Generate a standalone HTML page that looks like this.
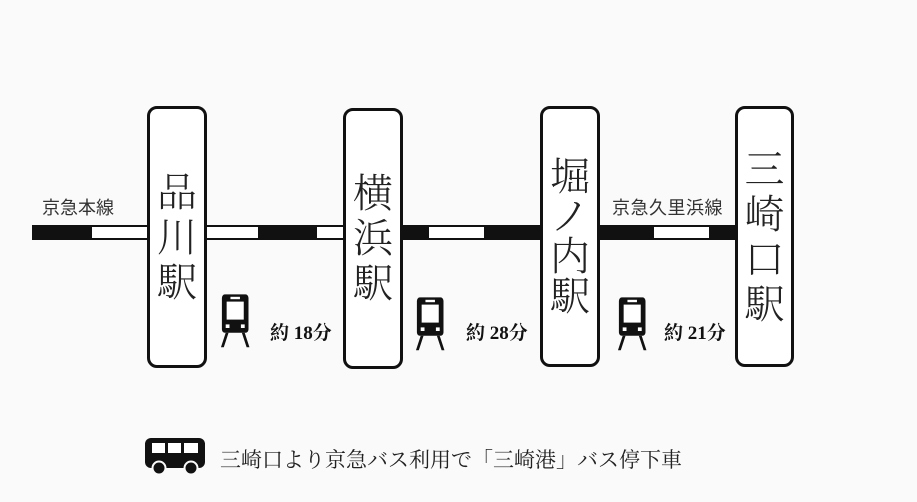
<!DOCTYPE html>
<html><head><meta charset="utf-8"><style>
body{margin:0;width:917px;height:502px;background:#fafafa;position:relative;overflow:hidden;font-family:"Liberation Serif","Noto Serif CJK SC",serif;}
.a{position:absolute;box-sizing:border-box}
.blk{background:#111;height:15px;top:225px}
.wht{background:#fff;border:2.5px solid #111;height:15px;top:225px}
.st{border:3px solid #111;border-radius:10px;background:#fff;display:flex;flex-direction:column;align-items:center;justify-content:center;font-size:40px;line-height:45px;color:#222;font-weight:300}
.lbl{font-family:"Liberation Sans","Noto Sans CJK JP",sans-serif;font-size:18px;color:#333;top:194px}
.t{font-size:19px;font-weight:bold;top:318px;color:#111}
</style></head><body>
<div class="a blk" style="left:32px;width:60px"></div>
<div class="a wht" style="left:90px;width:59px"></div>
<div class="a wht" style="left:205px;width:55px"></div>
<div class="a blk" style="left:258px;width:59px"></div>
<div class="a wht" style="left:315px;width:30px"></div>
<div class="a blk" style="left:400px;width:29px"></div>
<div class="a wht" style="left:427px;width:59px"></div>
<div class="a blk" style="left:484px;width:58px"></div>
<div class="a blk" style="left:597px;width:57px"></div>
<div class="a wht" style="left:652px;width:59px"></div>
<div class="a blk" style="left:709px;width:28px"></div>
<div class="a lbl" style="left:42px">京急本線</div>
<div class="a lbl" style="left:612px;letter-spacing:0.5px">京急久里浜線</div>
<div class="a st" style="left:147px;top:106px;width:60px;height:262px;padding-top:0"><span>品</span><span>川</span><span>駅</span></div>
<div class="a st" style="left:343px;top:108px;width:60px;height:261px"><span>横</span><span>浜</span><span>駅</span></div>
<div class="a st" style="left:540px;top:106px;width:60px;height:261px;line-height:40px"><span>堀</span><span>ノ</span><span>内</span><span>駅</span></div>
<div class="a st" style="left:735px;top:106px;width:59px;height:261px;line-height:45px"><span>三</span><span>崎</span><span>口</span><span>駅</span></div>
<svg class="a" style="left:0;top:0" width="917" height="502">
<defs><g id="tr">
<rect x="2" y="2" width="28" height="32" rx="3" fill="#111"/>
<rect x="7" y="8" width="18" height="15" fill="#fff"/>
<rect x="11" y="4" width="10" height="2" fill="#fff"/>
<rect x="6" y="27" width="4" height="3" fill="#fff"/><rect x="22" y="27" width="4" height="3" fill="#fff"/>
<path d="M6 34 L1 46 L4 46 L9 34Z M26 34 L31 46 L28 46 L23 34Z" fill="#111"/>
</g></defs>
<use href="#tr" transform="translate(220 292) scale(0.95 1.2)"/>
<use href="#tr" transform="translate(415 295) scale(0.95 1.2)"/>
<use href="#tr" transform="translate(617 295) scale(0.95 1.2)"/>
<rect x="145" y="438" width="60" height="30" rx="6" fill="#111"/>
<rect x="152" y="443" width="13" height="10" fill="#fff"/><rect x="168" y="443" width="13" height="10" fill="#fff"/><rect x="184" y="443" width="14" height="10" fill="#fff"/>
<circle cx="159" cy="468" r="6.5" fill="#111" stroke="#fafafa" stroke-width="2"/>
<circle cx="191" cy="468" r="6.5" fill="#111" stroke="#fafafa" stroke-width="2"/>
</svg>
<div class="a t" style="left:270px">約 18分</div>
<div class="a t" style="left:466px">約 28分</div>
<div class="a t" style="left:664px">約 21分</div>
<div class="a" style="left:220px;top:444px;font-size:21px;color:#222;white-space:nowrap">三崎口より京急バス利用で「三崎港」バス停下車</div>
</body></html>
